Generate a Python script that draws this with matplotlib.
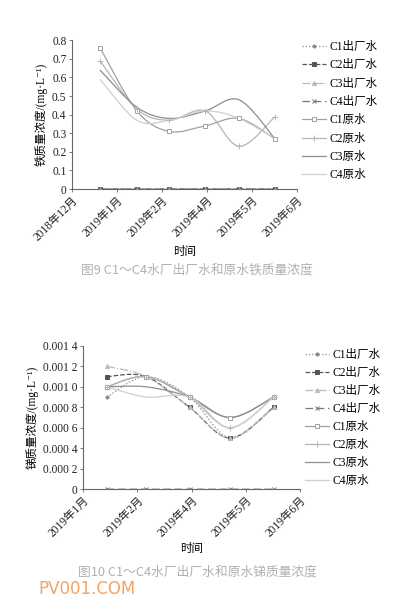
import matplotlib
matplotlib.use('Agg')
import matplotlib.pyplot as plt
from matplotlib.path import Path
from matplotlib.patches import PathPatch
from matplotlib.lines import Line2D
import numpy as np

plt.rcParams['font.family'] = ['Liberation Serif', 'Noto Sans CJK SC', 'DejaVu Sans']
plt.rcParams['axes.unicode_minus'] = False

# ---- data ----
series_names = ['C1出厂水', 'C2出厂水', 'C3出厂水', 'C4出厂水',
                'C1原水', 'C2原水', 'C3原水', 'C4原水']

# Fe chart (figure 9)
fe_ticks = ['2018年12月', '2019年1月', '2019年2月', '2019年4月', '2019年5月', '2019年6月']
fe_x = [0.62, 1.44, 2.16, 2.96, 3.71, 4.51]
fe_values = [
    [0, 0, 0, 0, 0, 0],
    [0, 0, 0, 0, 0, 0],
    [0, 0, 0, 0, 0, 0],
    [0, 0, 0, 0, 0, 0],
    [0.76, 0.42, 0.31, 0.34, 0.38, 0.27],
    [0.69, 0.43, 0.37, 0.42, 0.23, 0.39],
    [0.64, 0.44, 0.38, 0.42, 0.48, 0.27],
    [0.59, 0.37, 0.37, 0.42, 0.38, 0.27],
]
fe_yticks = [0, 0.1, 0.2, 0.3, 0.4, 0.5, 0.6, 0.7, 0.8]
fe_ylabels = ['0', '0.1', '0.2', '0.3', '0.4', '0.5', '0.6', '0.7', '0.8']

# Sb chart (figure 10)
sb_ticks = ['2019年1月', '2019年2月', '2019年4月', '2019年5月', '2019年6月']
sb_x = [0.44, 1.16, 1.96, 2.71, 3.51]
sb_values = [
    [0.0009, 0.0011, 0.0009, 0.0005, 0.0008],
    [0.0011, 0.0011, 0.0008, 0.0005, 0.0008],
    [0.0012, 0.0011, 0.0008, 0.0005, 0.0008],
    [0, 0, 0, 0, 0],
    [0.0010, 0.0011, 0.0009, 0.0007, 0.0009],
    [0.0010, 0.0011, 0.0009, 0.0006, 0.0009],
    [0.0010, 0.0010, 0.0009, 0.0007, 0.0009],
    [0.0010, 0.0009, 0.0009, 0.0006, 0.0009],
]
sb_yticks = [0, 0.0002, 0.0004, 0.0006, 0.0008, 0.0010, 0.0012, 0.0014]
sb_ylabels = ['0', '0.000 2', '0.000 4', '0.000 6', '0.000 8', '0.001 0', '0.001 2', '0.001 4']

# ---- styles ----
styles = [
    dict(color='#8a8a8a', ls=':', marker='o', ms=2.2, mfc='#8a8a8a'),
    dict(color='#555555', ls='--', marker='s', ms=3, mfc='#555555'),
    dict(color='#bbbbbb', ls='-.', marker='^', ms=3, mfc='#bbbbbb'),
    dict(color='#777777', ls=(0, (6, 3)), marker='x', ms=3, mfc='none'),
    dict(color='#a0a0a0', ls='-', marker='s', ms=3, mfc='white'),
    dict(color='#b5b5b5', ls='-', marker='+', ms=4, mfc='none'),
    dict(color='#8e8e8e', ls='-', marker=None, ms=0, mfc='none'),
    dict(color='#cfcfcf', ls='-', marker=None, ms=0, mfc='none'),
]


def smooth_path(x, y):
    # Catmull-Rom style bezier through the points (like Excel smoothed lines)
    p = np.column_stack([x, y]).astype(float)
    n = len(p)
    verts = [p[0]]
    codes = [Path.MOVETO]
    for i in range(n - 1):
        p0 = p[i - 1] if i > 0 else p[i]
        p3 = p[i + 2] if i + 2 < n else p[i + 1]
        c1 = p[i] + (p[i + 1] - p0) / 6.0
        c2 = p[i + 1] - (p3 - p[i]) / 6.0
        verts += [c1, c2, p[i + 1]]
        codes += [Path.CURVE4] * 3
    return Path(verts, codes)


def draw_chart(ax, xs, values, ticks, yticks, ylabels, ylabel):
    handles = []
    for vals, st in zip(values, styles):
        ax.add_patch(PathPatch(smooth_path(xs, vals), fill=False,
                               ec=st['color'], lw=0.9, ls=st['ls'], zorder=2))
        if st['marker']:
            ax.plot(xs, vals, ls='none', marker=st['marker'], ms=st['ms'],
                    mec=st['color'], mfc=st['mfc'], mew=0.7, zorder=3)
        handles.append(Line2D([], [], color=st['color'], ls=st['ls'], lw=0.9,
                              marker=st['marker'], ms=st['ms'], mec=st['color'],
                              mfc=st['mfc'], mew=0.7))
    ax.set_xlim(0, len(ticks) - 1)
    ax.set_ylim(yticks[0], yticks[-1])
    ax.set_xticks(range(len(ticks)))
    ax.set_xticklabels(ticks, rotation=45, ha='right', va='top',
                       rotation_mode='anchor', fontsize=8.3)
    ax.set_yticks(yticks)
    ax.set_yticklabels(ylabels, fontsize=8.3)
    for s in ['top', 'right']:
        ax.spines[s].set_visible(False)
    for s in ['left', 'bottom']:
        ax.spines[s].set_color('#666666')
        ax.spines[s].set_linewidth(0.8)
    ax.tick_params(length=2, width=0.6, colors='#666666', labelcolor='#222222', pad=2)
    ax.set_xlabel('时间', fontsize=8.3, labelpad=2)
    ax.set_ylabel(ylabel, fontsize=8.3, labelpad=3)
    return handles


fig = plt.figure(figsize=(3.94, 6.10), dpi=100)

ax1 = fig.add_axes([0.183, 0.690, 0.571, 0.244])
h1 = draw_chart(ax1, fe_x, fe_values, fe_ticks, fe_yticks, fe_ylabels,
                '铁质量浓度/(mg·L⁻¹)')
fig.legend(h1, series_names, loc='upper left', bbox_to_anchor=(0.740, 0.950),
           frameon=False, fontsize=8.3, handlelength=2.1, handletextpad=0.3,
           labelspacing=0.55)

ax2 = fig.add_axes([0.211, 0.198, 0.551, 0.235])
h2 = draw_chart(ax2, sb_x, sb_values, sb_ticks, sb_yticks, sb_ylabels,
                '锑质量浓度/(mg·L⁻¹)')
fig.legend(h2, series_names, loc='upper left', bbox_to_anchor=(0.748, 0.445),
           frameon=False, fontsize=8.3, handlelength=2.1, handletextpad=0.3,
           labelspacing=0.52)

cap_font = ['Noto Sans CJK SC', 'DejaVu Sans']
fig.text(0.5, 1 - 270 / 610, '图9 C1～C4水厂出厂水和原水铁质量浓度', ha='center',
         va='center', fontsize=9.2, color='#b0b0b0', family=cap_font)
fig.text(0.5, 1 - 572 / 610, '图10 C1～C4水厂出厂水和原水锑质量浓度', ha='center',
         va='center', fontsize=9.2, color='#b0b0b0', family=cap_font)
fig.text(87 / 394, 1 - 589 / 610, 'PV001.COM', ha='center', va='center',
         fontsize=12, color='#f4a460', family=['DejaVu Sans'])

fig.savefig('out.png', dpi=100, facecolor='white')
